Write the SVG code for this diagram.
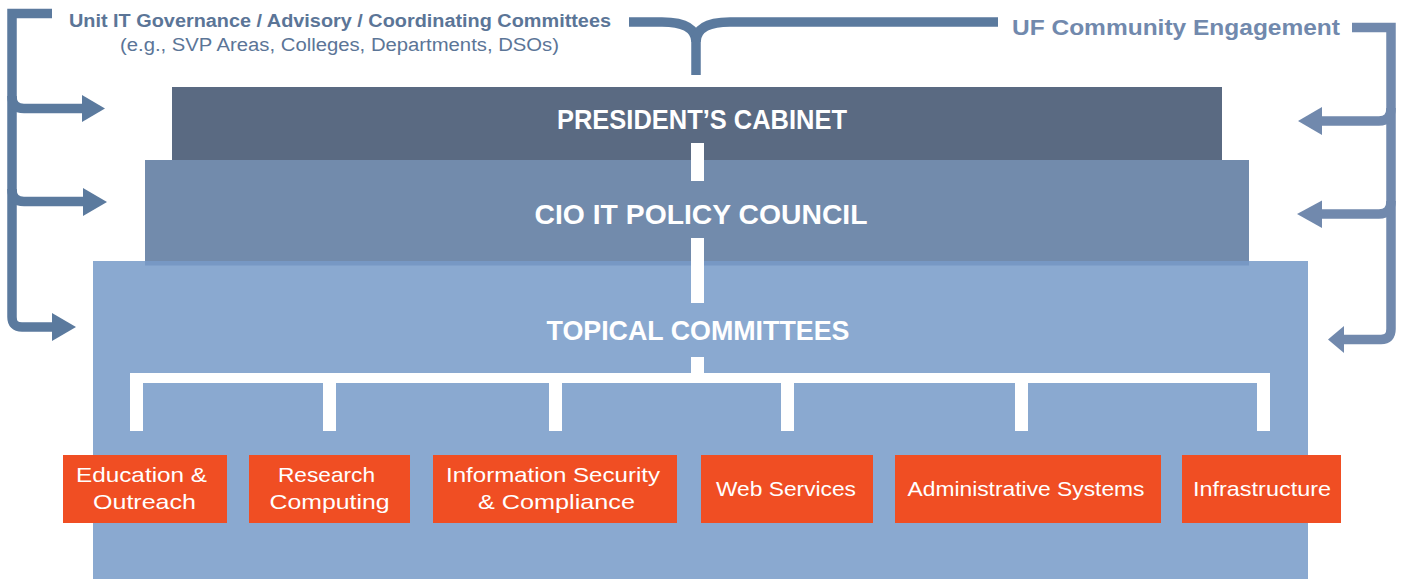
<svg xmlns="http://www.w3.org/2000/svg" width="1404" height="579" viewBox="0 0 1404 579">
<defs>
<style>
.lbl{font-family:"Liberation Sans",Arial,sans-serif;}
.title{font-family:"Liberation Sans",Arial,sans-serif;font-weight:bold;fill:#ffffff;font-size:28.5px;text-anchor:middle;}
.box{fill:#f04e23;}
.btxt{font-family:"Liberation Sans",Arial,sans-serif;fill:#ffffff;font-size:21px;text-anchor:middle;}
.wl{fill:#ffffff;}
.lc{fill:none;stroke:#5b7a9e;stroke-width:9.5;stroke-linejoin:miter;stroke-linecap:butt;}
.rc{fill:none;stroke:#7189ad;stroke-width:9.5;stroke-linejoin:miter;stroke-linecap:butt;}
</style>
</defs>
<rect width="1404" height="579" fill="#ffffff"/>

<g id="topical-committees">
<rect x="93" y="261" width="1215" height="318" fill="#8aa9d0"/>
<text class="title" x="698" y="339.5" textLength="303" lengthAdjust="spacingAndGlyphs">TOPICAL COMMITTEES</text>
</g>
<g id="cio-it-policy-council">
<rect x="145" y="160" width="1104" height="101" fill="#728bac"/>
<rect x="145" y="261" width="1104" height="4.5" fill="#7798c4"/>
<text class="title" x="701" y="223.5" textLength="333" lengthAdjust="spacingAndGlyphs">CIO IT POLICY COUNCIL</text>
</g>
<g id="presidents-cabinet">
<rect x="172" y="87" width="1050" height="73" fill="#5a6a82"/>
<text class="title" x="702" y="129" textLength="290" lengthAdjust="spacingAndGlyphs">PRESIDENT’S CABINET</text>
</g>

<g id="unit-it-label">
<text class="lbl" x="69" y="27" font-size="18" font-weight="bold" fill="#5b7597" textLength="542" lengthAdjust="spacingAndGlyphs">Unit IT Governance / Advisory / Coordinating Committees</text>
<text class="lbl" x="120" y="51" font-size="18" fill="#5b7597" textLength="439" lengthAdjust="spacingAndGlyphs">(e.g., SVP Areas, Colleges, Departments, DSOs)</text>
</g>
<g id="uf-community-label">
<text class="lbl" x="1012" y="35" font-size="22" font-weight="bold" fill="#7189ad" textLength="328" lengthAdjust="spacingAndGlyphs">UF Community Engagement</text>
</g>

<g id="connectors">
<path class="lc" d="M629,22 H662 C684,22 696,28 696,42 V75"/>
<path class="lc" d="M998,22 H730 C708,22 696,28 696,42"/>
<path class="lc" d="M52,13.5 H12 V317 Q12,327 22,327 H54"/>
<path class="lc" d="M12,96 Q12,108.5 24,108.5 H84"/>
<path class="lc" d="M12,189 Q12,201.5 24,201.5 H85"/>
<polygon fill="#5b7a9e" points="82,95 105,108.5 82,122"/>
<polygon fill="#5b7a9e" points="83,188 107,202 83,216"/>
<polygon fill="#5b7a9e" points="52,313 76,327 52,341"/>
<path class="rc" d="M1352,27.5 H1391 V329 Q1391,339.5 1381,339.5 H1342"/>
<path class="rc" d="M1391,108 Q1391,121 1379,121 H1320"/>
<path class="rc" d="M1391,201 Q1391,214 1379,214 H1320"/>
<polygon fill="#7189ad" points="1322,107 1298,121 1322,135"/>
<polygon fill="#7189ad" points="1322,200.5 1297,214 1322,228"/>
<polygon fill="#7189ad" points="1344,326 1328,339.5 1344,353"/>
<rect class="wl" x="691" y="143" width="13" height="38"/>
<rect class="wl" x="691" y="238" width="13" height="65"/>
<rect class="wl" x="691" y="357" width="13" height="26"/>
<rect class="wl" x="130" y="373" width="1140" height="10"/>
<rect class="wl" x="130" y="373" width="13" height="58"/>
<rect class="wl" x="323" y="373" width="13" height="58"/>
<rect class="wl" x="549" y="373" width="13" height="58"/>
<rect class="wl" x="781" y="373" width="13" height="58"/>
<rect class="wl" x="1015" y="373" width="13" height="58"/>
<rect class="wl" x="1257" y="373" width="13" height="58"/>
</g>

<g id="education-outreach">
<rect class="box" x="63" y="455" width="164" height="68"/>
<text class="btxt" x="141.5" y="482" textLength="131" lengthAdjust="spacingAndGlyphs">Education &amp;</text>
<text class="btxt" x="144.5" y="509" textLength="103" lengthAdjust="spacingAndGlyphs">Outreach</text>
</g>
<g id="research-computing">
<rect class="box" x="249" y="455" width="161" height="68"/>
<text class="btxt" x="326.5" y="482" textLength="97" lengthAdjust="spacingAndGlyphs">Research</text>
<text class="btxt" x="329.5" y="509" textLength="120" lengthAdjust="spacingAndGlyphs">Computing</text>
</g>
<g id="information-security">
<rect class="box" x="433" y="455" width="244" height="68"/>
<text class="btxt" x="553" y="482" textLength="214" lengthAdjust="spacingAndGlyphs">Information Security</text>
<text class="btxt" x="556.5" y="509" textLength="157" lengthAdjust="spacingAndGlyphs">&amp; Compliance</text>
</g>
<g id="web-services">
<rect class="box" x="701" y="455" width="172" height="68"/>
<text class="btxt" x="786" y="496" textLength="140" lengthAdjust="spacingAndGlyphs">Web Services</text>
</g>
<g id="administrative-systems">
<rect class="box" x="895" y="455" width="266" height="68"/>
<text class="btxt" x="1026" y="496" textLength="237" lengthAdjust="spacingAndGlyphs">Administrative Systems</text>
</g>
<g id="infrastructure">
<rect class="box" x="1182" y="455" width="159" height="68"/>
<text class="btxt" x="1262" y="496" textLength="138" lengthAdjust="spacingAndGlyphs">Infrastructure</text>
</g>
</svg>
